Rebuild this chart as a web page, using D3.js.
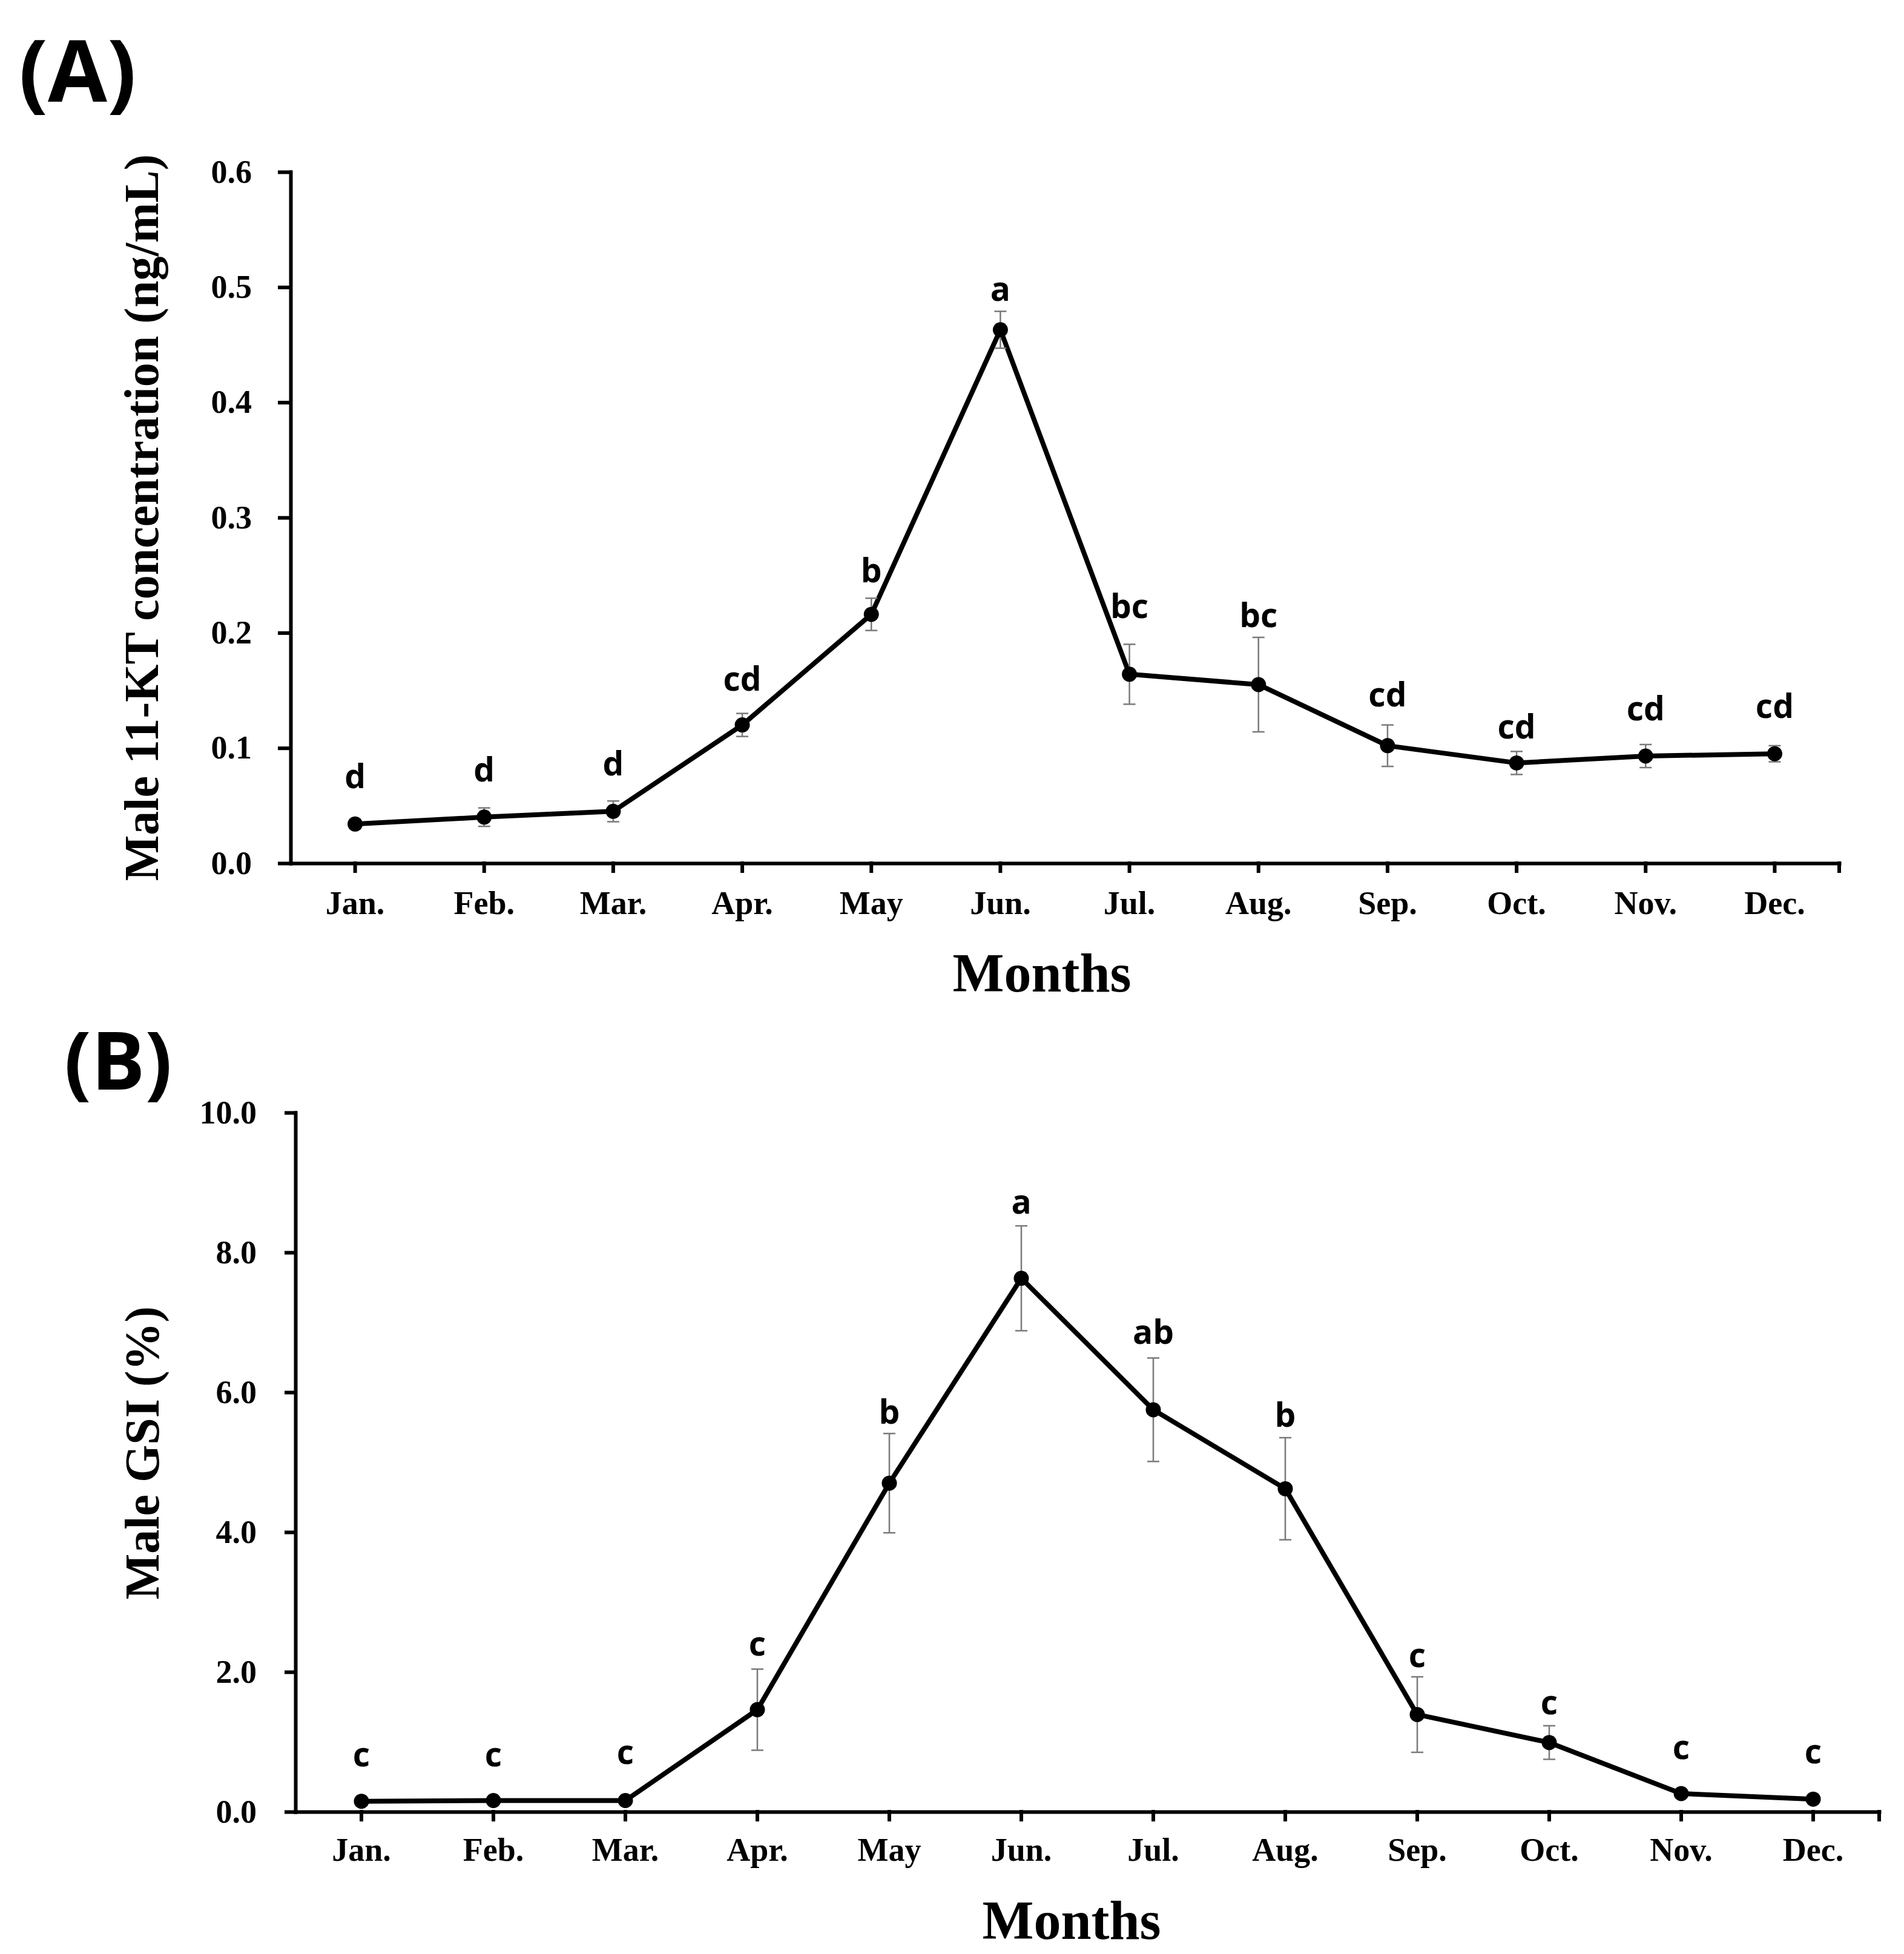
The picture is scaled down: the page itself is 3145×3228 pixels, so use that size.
<!DOCTYPE html>
<html>
<head>
<meta charset="utf-8">
<script src="https://cdn.jsdelivr.net/npm/d3@7"></script>
<style>
  body { margin: 0; background: #fff; }
  .serif { font-family: "Liberation Serif", "Times New Roman", serif; font-weight: bold; }
  .sans { font-family: "Open Sans", "Noto Sans", sans-serif; font-weight: bold; }
</style>
</head>
<body>
<svg id="chart"></svg>
<script>

const months = ["Jan.", "Feb.", "Mar.", "Apr.", "May", "Jun.", "Jul.", "Aug.", "Sep.", "Oct.", "Nov.", "Dec."]

// (A) male 11-KT (ng/mL)
const ktMean = [0.034, 0.040, 0.045, 0.120, 0.216, 0.463, 0.164, 0.155, 0.102, 0.087, 0.093, 0.095]
const ktSE = [0.004, 0.008, 0.009, 0.010, 0.014, 0.016, 0.026, 0.041, 0.018, 0.010, 0.010, 0.007]
const ktLetters = ["d", "d", "d", "cd", "b", "a", "bc", "bc", "cd", "cd", "cd", "cd"]
const ktLetterAt = [0.065, 0.071, 0.076, 0.150, 0.244, 0.488, 0.213, 0.205, 0.136, 0.108, 0.124, 0.126]
const ktTicks = [0, 0.1, 0.2, 0.3, 0.4, 0.5, 0.6]

// (B) male GSI (%)
const gsiMean = [0.15, 0.16, 0.16, 1.46, 4.70, 7.63, 5.75, 4.62, 1.39, 0.99, 0.26, 0.18]
const gsiSE = [0.03, 0.03, 0.03, 0.58, 0.71, 0.75, 0.74, 0.73, 0.54, 0.24, 0.04, 0.03]
const gsiLetters = ["c", "c", "c", "c", "b", "a", "ab", "b", "c", "c", "c", "c"]
const gsiLetterAt = [0.65, 0.65, 0.68, 2.23, 5.55, 8.55, 6.69, 5.51, 2.07, 1.39, 0.75, 0.69]
const gsiTicks = [0, 2, 4, 6, 8, 10]

const svg = d3.select("#chart").attr("width", 3145).attr("height", 3228)

drawPanel({
  tag: "(A)", tagX: 31, tagY: 168, tagSize: 142,
  mean: ktMean, se: ktSE, letters: ktLetters, letterAt: ktLetterAt, ticks: ktTicks,
  domain: [0, 0.6], left: 480, right: 3038, top: 284, bottom: 1426,
  yTick: 18, yPad: 46, xTick: 13, xPad: 33,
  yTitle: "Male 11-KT concentration (ng/mL)", yTitleX: 261, yTitleY: 855,
  monthsDx: -38, monthsY: 1638
})

drawPanel({
  tag: "(B)", tagX: 106, tagY: 1800, tagSize: 132,
  mean: gsiMean, se: gsiSE, letters: gsiLetters, letterAt: gsiLetterAt, ticks: gsiTicks,
  domain: [0, 10], left: 488, right: 3104, top: 1838, bottom: 2993,
  yTick: 15, yPad: 49, xTick: 13, xPad: 30,
  yTitle: "Male GSI (%)", yTitleX: 262, yTitleY: 2400,
  monthsDx: -26, monthsY: 3203
})

function drawPanel(opt) {
  const points = months.map((m, i) => ({
    m: m, v: opt.mean[i], e: opt.se[i], l: opt.letters[i], at: opt.letterAt[i]
  }))

  const x = d3.scaleBand().domain(months).range([opt.left, opt.right])
  const y = d3.scaleLinear().domain(opt.domain).range([opt.bottom, opt.top])
  const cx = d => x(d.m) + x.bandwidth() / 2

  const g = svg.append("g")

  // panel tag
  g.append("text")
    .attr("class", "sans")
    .attr("x", opt.tagX)
    .attr("y", opt.tagY)
    .style("font-size", opt.tagSize + "px")
    .text(opt.tag)

  // y axis
  const yAxis = g.append("g")
    .attr("transform", `translate(${opt.left},0)`)
    .call(d3.axisLeft(y)
      .tickValues(opt.ticks)
      .tickFormat(d3.format(".1f"))
      .tickSize(opt.yTick)
      .tickPadding(opt.yPad)
      .tickSizeOuter(0))

  // x axis
  const xAxis = g.append("g")
    .attr("transform", `translate(0,${opt.bottom})`)
    .call(d3.axisBottom(x)
      .tickSize(opt.xTick)
      .tickPadding(opt.xPad)
      .tickSizeOuter(0))

  xAxis.append("line")
    .attr("x1", opt.right).attr("x2", opt.right)
    .attr("y1", 0).attr("y2", opt.xTick)

  for (const ax of [yAxis, xAxis]) {
    ax.attr("font-family", null).attr("font-size", null)
    ax.selectAll("path, line")
      .attr("stroke", "#000")
      .attr("stroke-width", 6)
      .attr("stroke-linecap", "square")
    ax.selectAll("text")
      .attr("class", "serif")
      .attr("fill", "#000")
      .style("font-size", "54px")
  }

  // axis titles
  g.append("text")
    .attr("class", "serif")
    .attr("transform", `translate(${opt.yTitleX},${opt.yTitleY}) rotate(-90)`)
    .attr("text-anchor", "middle")
    .style("font-size", "80px")
    .text(opt.yTitle)

  g.append("text")
    .attr("class", "serif")
    .attr("x", (opt.left + opt.right) / 2 + opt.monthsDx)
    .attr("y", opt.monthsY)
    .attr("text-anchor", "middle")
    .style("font-size", "90px")
    .text("Months")

  // series line
  g.append("path")
    .datum(points)
    .attr("fill", "none")
    .attr("stroke", "#000")
    .attr("stroke-width", 8)
    .attr("stroke-linejoin", "round")
    .attr("d", d3.line().x(cx).y(d => y(d.v)))

  // error bars
  const err = g.append("g")
    .attr("stroke", "#7a7a7a")
    .attr("stroke-width", 2.5)
    .selectAll("g")
    .data(points)
    .join("g")

  err.append("line")
    .attr("x1", cx).attr("x2", cx)
    .attr("y1", d => y(d.v - d.e))
    .attr("y2", d => y(d.v + d.e))

  for (const sign of [-1, 1]) {
    err.append("line")
      .attr("x1", d => cx(d) - 10).attr("x2", d => cx(d) + 10)
      .attr("y1", d => y(d.v + sign * d.e))
      .attr("y2", d => y(d.v + sign * d.e))
  }

  // markers
  g.append("g")
    .selectAll("circle")
    .data(points)
    .join("circle")
    .attr("cx", cx)
    .attr("cy", d => y(d.v))
    .attr("r", 12.5)
    .attr("fill", "#000")

  // significance letters
  g.append("g")
    .selectAll("text")
    .data(points)
    .join("text")
    .attr("class", "sans")
    .attr("x", cx)
    .attr("y", d => y(d.at))
    .attr("text-anchor", "middle")
    .style("font-size", "55px")
    .text(d => d.l)
}
</script>
</body>
</html>
